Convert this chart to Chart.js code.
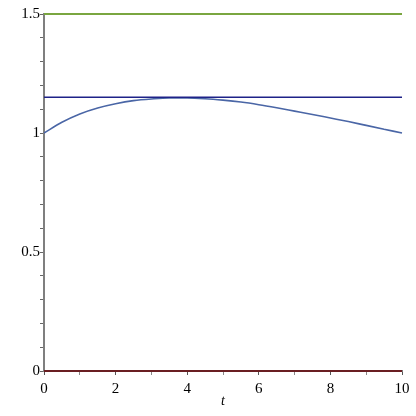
<!DOCTYPE html>
<html>
<head>
<meta charset="utf-8">
<script src="https://cdn.jsdelivr.net/npm/chart.js@4.4.1/dist/chart.umd.min.js"></script>
<style>
  html, body { margin: 0; padding: 0; background: #fff; }
  #wrap { width: 416px; height: 416px; }
</style>
</head>
<body>
<div id="wrap"><canvas id="plot" width="416" height="416"></canvas></div>
<script>
// curve samples
const tValues = [0, 0.5, 1, 1.5, 2, 2.5, 3, 3.5, 4, 4.5, 5, 5.5, 6, 6.5, 7, 7.5, 8, 8.5, 9, 9.5, 10];
const curveValues = [1.000, 1.045, 1.080, 1.105, 1.123, 1.136, 1.143, 1.147, 1.147, 1.144, 1.138,
                     1.130, 1.119, 1.106, 1.092, 1.078, 1.063, 1.048, 1.032, 1.016, 1.000];
const upperLevel = 1.5;
const steadyLevel = 1.15;
const lowerLevel = 0;
const xRange = [0, 10];
const yRange = [0, 1.5];

const flat = v => xRange.map(x => ({ x: x, y: v }));
const serif = { family: 'Liberation Serif', size: 15 };

new Chart(document.getElementById('plot'), {
    type: 'line',
    data: {
        datasets: [
            {
                data: flat(upperLevel),
                borderColor: '#7aa640',
                borderWidth: 2,
                pointRadius: 0,
                clip: false
            },
            {
                data: flat(steadyLevel),
                borderColor: '#1e2288',
                borderWidth: 1.6,
                pointRadius: 0,
                clip: false
            },
            {
                data: tValues.map((t, i) => ({ x: t, y: curveValues[i] })),
                borderColor: '#4a66a6',
                borderWidth: 1.6,
                pointRadius: 0,
                cubicInterpolationMode: 'monotone',
                clip: false
            },
            {
                data: flat(lowerLevel),
                borderColor: '#6a1e22',
                borderWidth: 2.2,
                pointRadius: 0,
                clip: false
            }
        ]
    },
    options: {
        responsive: false,
        animation: false,
        layout: {
            padding: { left: 0, right: 14, top: 14, bottom: 0 }
        },
        plugins: {
            legend: { display: false },
            tooltip: { enabled: false }
        },
        scales: {
            x: {
                type: 'linear',
                min: xRange[0],
                max: xRange[1],
                border: { color: '#7f7f7f', width: 2 },
                grid: {
                    drawOnChartArea: false,
                    tickLength: 4,
                    tickColor: ctx => (ctx.tick && ctx.tick.value % 2 === 0) ? '#555' : '#888'
                },
                ticks: {
                    stepSize: 1,
                    autoSkip: false,
                    maxRotation: 0,
                    padding: 5,
                    color: '#000',
                    font: serif,
                    callback: v => (v % 2 === 0 ? String(v) : '')
                },
                title: {
                    display: true,
                    text: 't',
                    color: '#000',
                    padding: { top: 0, bottom: 6 },
                    font: { family: 'Liberation Serif', size: 14, style: 'italic' }
                },
                afterFit: scale => { scale.height = 45; }
            },
            y: {
                min: yRange[0],
                max: yRange[1],
                border: { color: '#7f7f7f', width: 2 },
                grid: {
                    drawOnChartArea: false,
                    tickLength: 4,
                    tickColor: '#666'
                },
                ticks: {
                    stepSize: 0.1,
                    autoSkip: false,
                    padding: 0,
                    color: '#000',
                    font: serif,
                    callback: v => {
                        const k = Math.round(v * 10);
                        return k % 5 === 0 ? String(k / 10) : '';
                    }
                },
                afterFit: scale => { scale.width = 44; }
            }
        }
    }
});
</script>
</body>
</html>
